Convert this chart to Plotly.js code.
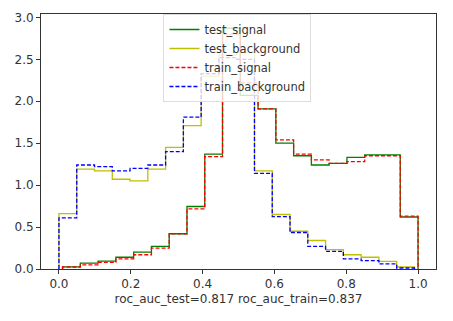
<!DOCTYPE html>
<html>
<head>
<meta charset="utf-8">
<script src="https://cdn.plot.ly/plotly-3.0.1.min.js"></script>
<style>html,body{margin:0;padding:0;background:#fff;}#chart{width:453px;height:321px;}</style>
</head>
<body>
<div id="chart"></div>
<script>
// Histogram data (density), 20 bins each
const nBins = 20;
const signalRange = [0.01, 1.0];
const backgroundRange = [0.0, 0.99];
const testSignal = [0.025,0.07,0.095,0.14,0.20,0.27,0.42,0.745,1.37,2.87,2.07,1.91,1.50,1.35,1.24,1.26,1.33,1.36,1.36,0.62];
const trainSignal = [0.024,0.05,0.08,0.12,0.17,0.25,0.42,0.717,1.34,2.80,2.22,1.91,1.54,1.37,1.30,1.26,1.28,1.35,1.35,0.63];
const testBackground = [0.66,1.19,1.17,1.07,1.05,1.19,1.45,1.71,2.30,2.55,2.58,1.17,0.65,0.45,0.34,0.23,0.17,0.14,0.09,0.024];
const trainBackground = [0.61,1.24,1.22,1.17,1.20,1.24,1.40,1.81,2.33,2.52,2.50,1.14,0.625,0.435,0.27,0.21,0.12,0.10,0.06,0.012];
const seriesNames = ["test_signal","test_background","train_signal","train_background"];
const xTicks = [0.0,0.2,0.4,0.6,0.8,1.0];
const yTicks = [0.0,0.5,1.0,1.5,2.0,2.5,3.0];
const xLabel = "roc_auc_test=0.817 roc_auc_train=0.837";

function stepOutline(range, heights){
  const w = (range[1]-range[0])/nBins;
  const xs = [range[0]], ys = [0];
  heights.forEach((h,i)=>{
    const a = range[0]+i*w, b = range[0]+(i+1)*w;
    xs.push(a, b); ys.push(h, h);
  });
  xs.push(range[1]); ys.push(0);
  return {x: xs, y: ys};
}

const specs = [
  {r: signalRange, h: testSignal, color: "#008000", dash: "solid"},
  {r: backgroundRange, h: testBackground, color: "#bfbf00", dash: "solid"},
  {r: signalRange, h: trainSignal, color: "#ff0000", dash: "4px,2px"},
  {r: backgroundRange, h: trainBackground, color: "#0000ff", dash: "4px,2px"}
];
const traces = specs.map((s,i)=>{
  const o = stepOutline(s.r, s.h);
  return {x:o.x, y:o.y, type:"scatter", mode:"lines", name:seriesNames[i],
    line:{color:s.color, width:1.3, dash:s.dash}, hoverinfo:"skip"};
});

const font = {family:"DejaVu Sans", size:12, color:"#333"};
const axisCommon = {showgrid:false, zeroline:false, showline:true, mirror:true,
  linecolor:"#333", linewidth:1, ticks:"outside", ticklen:4, tickcolor:"#333",
  tickfont:font, tickformat:".1f"};

const layout = {
  width:453, height:321,
  margin:{l:41, r:17, t:14, b:52},
  paper_bgcolor:"#fff", plot_bgcolor:"#fff",
  showlegend:true,
  legend:{x:0.31, y:1.0, xanchor:"left", yanchor:"top", itemwidth:30,
    bgcolor:"rgba(255,255,255,0.8)", bordercolor:"#ddd", borderwidth:1,
    font:{family:"DejaVu Sans", size:11.5, color:"#333"}, tracegroupgap:0},
  xaxis:Object.assign({}, axisCommon, {range:[-0.05,1.05], tickvals:xTicks,
    title:{text:xLabel, font:font, standoff:4}}),
  yaxis:Object.assign({}, axisCommon, {range:[0,3.04], tickvals:yTicks})
};
Plotly.newPlot("chart", traces, layout, {staticPlot:true, displayModeBar:false});
</script>
</body>
</html>
